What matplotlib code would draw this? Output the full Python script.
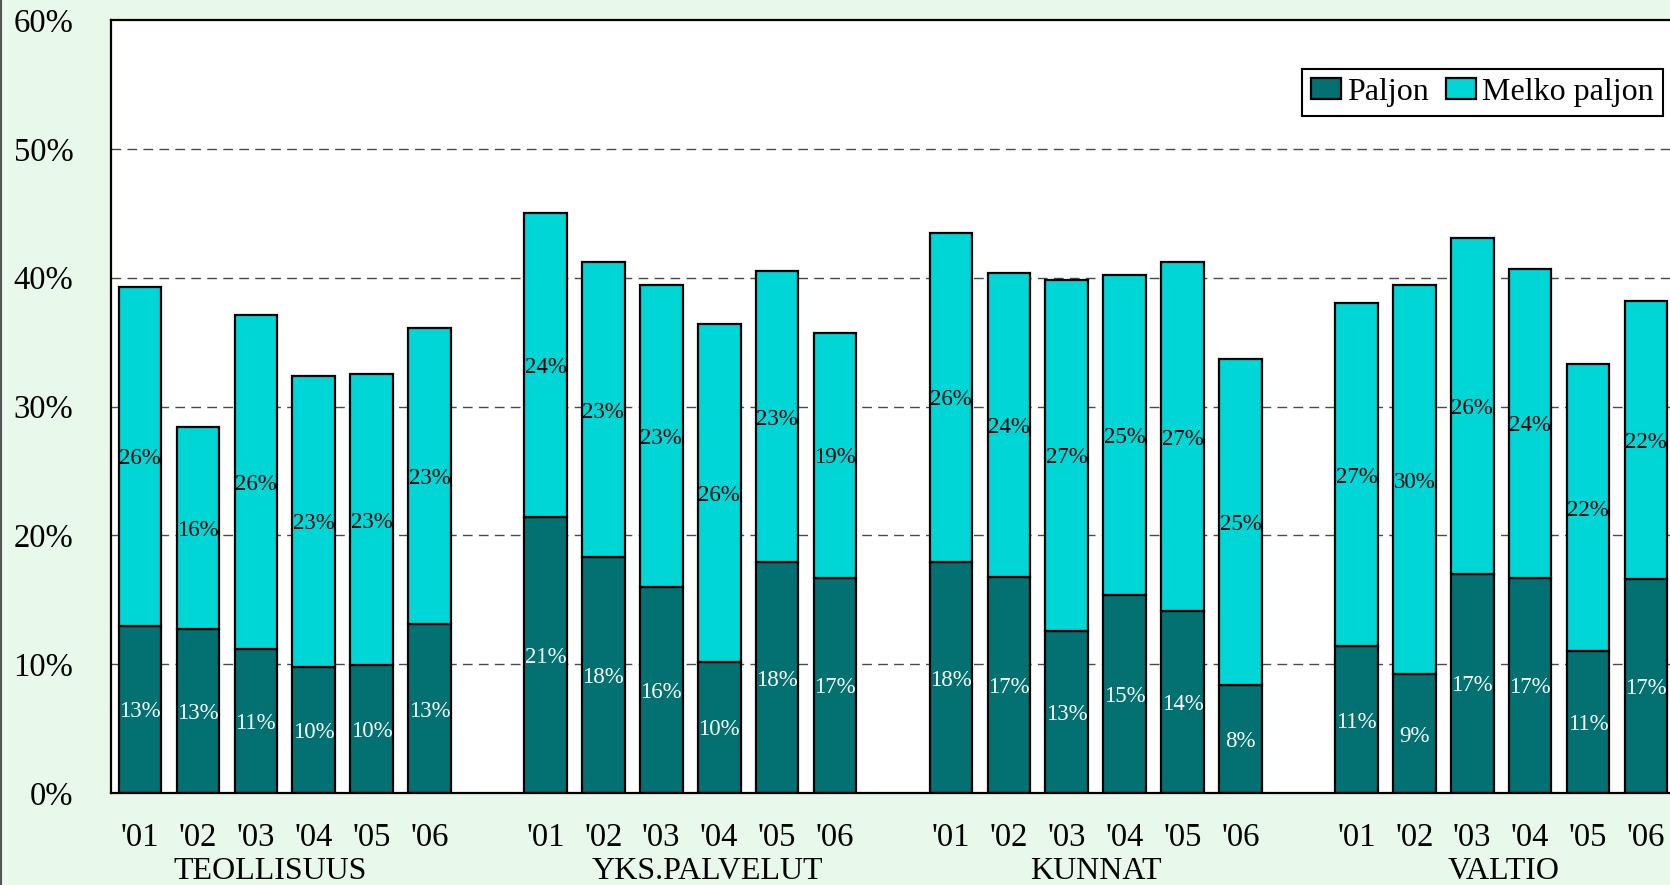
import matplotlib
matplotlib.use("Agg")
import matplotlib.pyplot as plt
import numpy as np
from matplotlib.lines import Line2D

plt.rcParams['font.family'] = ['Liberation Serif', 'DejaVu Serif']

groups = ['TEOLLISUUS', 'YKS.PALVELUT', 'KUNNAT', 'VALTIO']
years = ["'01", "'02", "'03", "'04", "'05", "'06"]

# Paljon (dark), per group
paljon = [
    [13.0, 12.7, 11.2, 9.8, 9.9, 13.1],
    [21.4, 18.3, 16.0, 10.2, 17.9, 16.7],
    [17.9, 16.8, 12.6, 15.4, 14.1, 8.4],
    [11.4, 9.2, 17.0, 16.7, 11.0, 16.6],
]
# Melko paljon (light), per group
melko = [
    [26.3, 15.7, 25.9, 22.6, 22.6, 23.0],
    [23.6, 22.9, 23.4, 26.2, 22.6, 19.0],
    [25.6, 23.6, 27.2, 24.8, 27.1, 25.3],
    [26.6, 30.2, 26.1, 24.0, 22.3, 21.6],
]

dark = '#037171'
light = '#00D6D6'
bg = '#E8F8EA'

fig = plt.figure(figsize=(16.7, 8.85), dpi=100, facecolor=bg)
ax = fig.add_axes([111/1670, 92/885, 1564/1670, 773/885])

x = []
for g in range(len(groups)):
    for i in range(len(years)):
        x.append(g * 7 + i)
x = np.array(x)
p = np.array(paljon).ravel()
m = np.array(melko).ravel()

w = 0.735
ax.bar(x, p, w, color=dark, edgecolor='black', linewidth=1.6, label='Paljon', zorder=2)
ax.bar(x, m, w, bottom=p, color=light, edgecolor='black', linewidth=1.6, label='Melko paljon', zorder=2)

for xi, pv, mv in zip(x, p, m):
    ax.text(xi, pv / 2, f"{pv:.0f}%", ha='center', va='center_baseline', color='white', fontsize=16.5, zorder=3)
    ax.text(xi, pv + mv / 2, f"{mv:.0f}%", ha='center', va='center_baseline', color='black', fontsize=16.5, zorder=3)

ax.set_xlim(-0.5, 26.5)
ax.set_ylim(0, 60)
ax.set_yticks(range(0, 61, 10))
ax.set_yticklabels([f"{v}%" for v in range(0, 61, 10)])
ax.set_xticks(x)
ax.set_xticklabels(years * len(groups))
ax.tick_params(axis='y', length=0, pad=27, labelsize=23.5)
ax.tick_params(axis='x', length=0, pad=21.5, labelsize=23.5)

for v in range(10, 60, 10):
    ax.axhline(v, color='#4a4a4a', linewidth=1, linestyle=(0, (7, 4.5)), zorder=1)

for s in ['left', 'bottom', 'top']:
    ax.spines[s].set_linewidth(1.6)
ax.spines['right'].set_visible(False)

offsets = [-0.26, 0.3, 0.0, 0.05]
for g, name in enumerate(groups):
    ax.text(g * 7 + 2.5 + offsets[g], -0.101, name, transform=ax.get_xaxis_transform(),
            ha='center', va='center', fontsize=23)

leg = ax.legend(loc='upper right', bbox_to_anchor=(1663/1670, 1 - 69/885),
                bbox_transform=fig.transFigure, borderaxespad=0, ncol=2,
                fontsize=23, fancybox=False, framealpha=1, edgecolor='black',
                handlelength=0.94, handleheight=0.66, handletextpad=0.19,
                columnspacing=0.56, borderpad=0.28)
leg.get_frame().set_linewidth(1.5)

fig.add_artist(Line2D([0.0008, 0.0008], [0, 1], transform=fig.transFigure, color='#555555', linewidth=1.5))

fig.savefig('out.png', dpi=100, facecolor=bg)
